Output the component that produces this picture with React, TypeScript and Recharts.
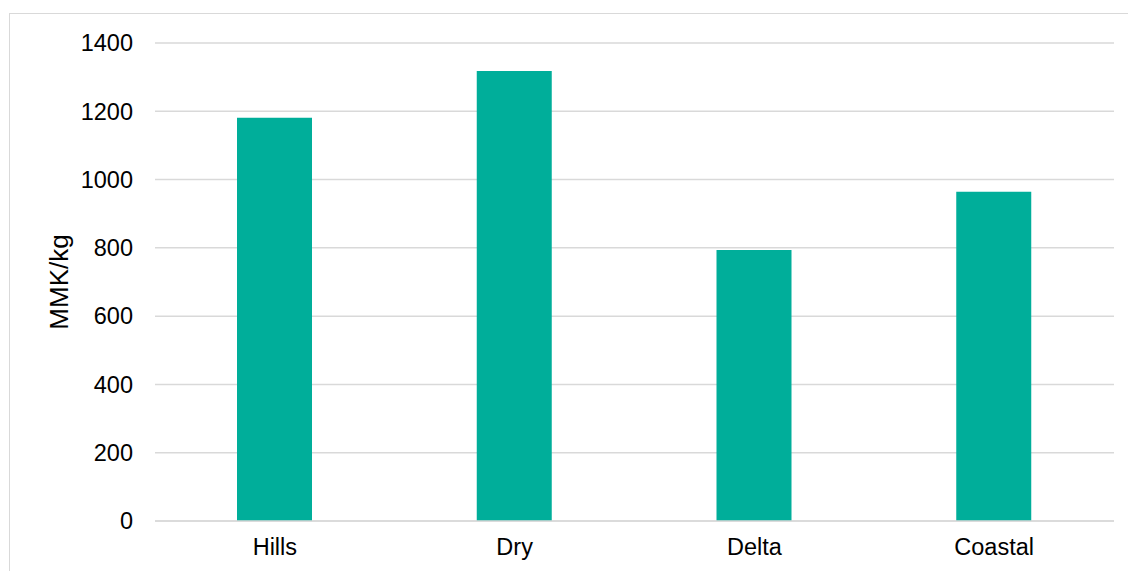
import { BarChart, Bar, XAxis, YAxis, CartesianGrid } from "recharts";

const regions = ["Hills", "Dry", "Delta", "Coastal"];
const prices = [1181, 1318, 794, 964];
const yTicks = [0, 200, 400, 600, 800, 1000, 1200, 1400];

const data = regions.map((region, i) => ({ region, price: prices[i] }));

const FONT = "'Liberation Sans', Arial, sans-serif";

export default function App() {
  return (
    <div
      style={{
        position: "absolute",
        left: 9,
        top: 13,
        width: 1200,
        height: 600,
        borderTop: "1px solid #d9d9d9",
        borderLeft: "1px solid #d9d9d9",
        background: "#fff",
      }}
    >
      <BarChart
        width={1110}
        height={557}
        data={data}
        margin={{ top: 29, right: 6, left: 0, bottom: 0 }}
        style={{ fontFamily: FONT }}
      >
        <CartesianGrid vertical={false} stroke="#d9d9d9" strokeWidth={1.5} />
        <XAxis
          dataKey="region"
          height={50}
          tickLine={false}
          axisLine={{ stroke: "#d9d9d9", strokeWidth: 1.5 }}
          tick={{ fontSize: 23.5, fill: "#000" }}
          tickMargin={11}
        />
        <YAxis
          width={145}
          domain={[0, 1400]}
          ticks={yTicks}
          tickLine={false}
          axisLine={false}
          tick={{ fontSize: 23.5, fill: "#000" }}
          tickMargin={16}
          label={{
            value: "MMK/kg",
            angle: -90,
            position: "insideLeft",
            offset: 49,
            style: { fontSize: 26, fill: "#000", textAnchor: "middle" },
          }}
        />
        <Bar dataKey="price" fill="#00ae9a" barSize={75} isAnimationActive={false} />
      </BarChart>
    </div>
  );
}
